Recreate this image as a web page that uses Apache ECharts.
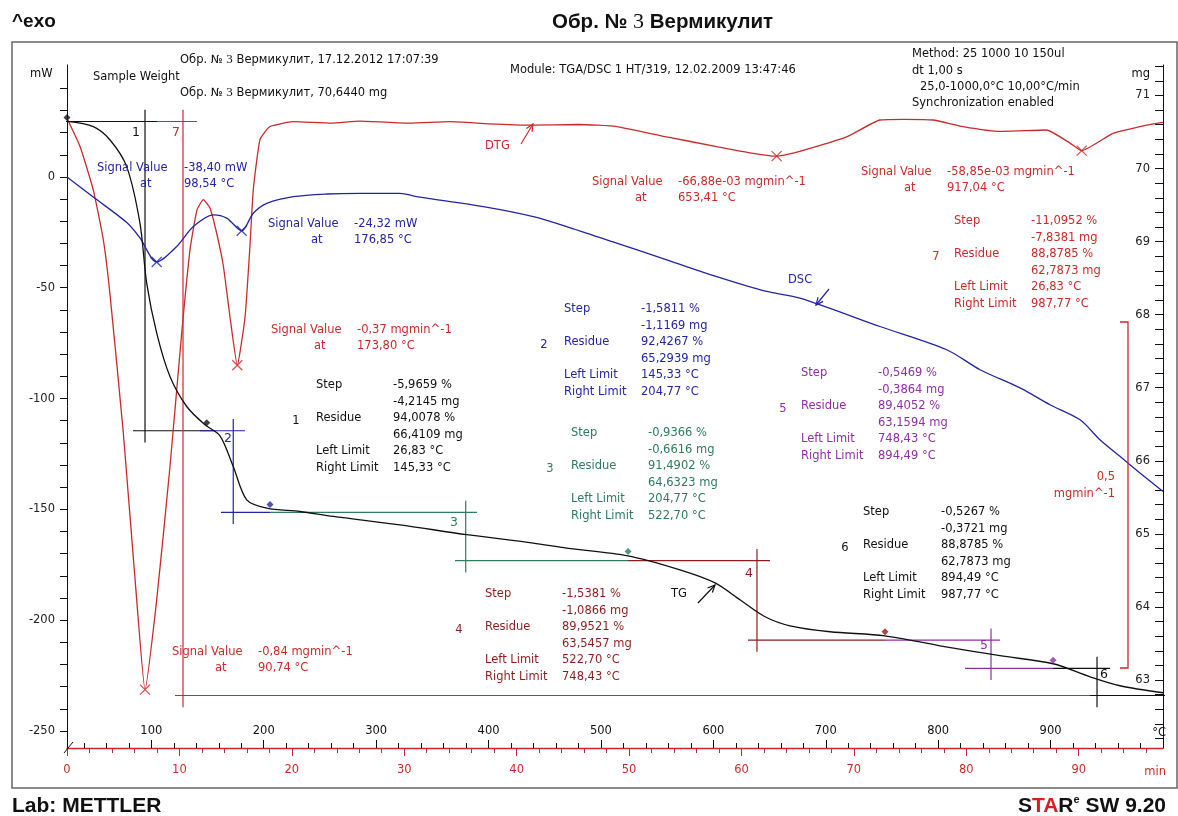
<!DOCTYPE html>
<html>
<head>
<meta charset="utf-8">
<title>Обр. № 3 Вермикулит</title>
<script src="https://cdn.jsdelivr.net/npm/echarts@6/dist/echarts.min.js"></script>
<style>
  html, body { margin: 0; padding: 0; background: #fff; }
  #chart { width: 1178px; height: 816px; }
</style>
</head>
<body>
<div id="chart"></div>
<script>
// TG: mass (mg) vs reference temperature (°C)
const tgTemp = [25, 48.4, 63.3, 78.1, 89.9, 95.9, 104.8, 116.6, 131.5, 147.8, 161.1, 172.9, 184.9, 202.7, 232.3, 261.9, 321.2, 380.6, 439.8, 469.5, 524.1, 570.3, 601.5, 623.7, 646.0, 668.2, 703.8, 752.7, 801.6, 855.0, 902.2, 935.1, 961.7, 1000]
const tgMass = [70.644, 70.573, 70.391, 70.026, 69.252, 68.431, 67.747, 67.153, 66.743, 66.492, 66.342, 65.922, 65.466, 65.353, 65.306, 65.238, 65.124, 64.988, 64.874, 64.806, 64.700, 64.508, 64.330, 64.098, 63.866, 63.742, 63.660, 63.605, 63.468, 63.332, 63.222, 63.044, 62.921, 62.825]

// DSC: heat flow (mW)
const dscTemp = [25, 48.1, 78.4, 89.9, 104.8, 122.6, 137.4, 155.1, 167.1, 180.4, 190.7, 202.7, 226.3, 256.0, 285.6, 321.2, 336.1, 395.3, 439.8, 469.5, 514.0, 558.5, 603.0, 647.4, 677.0, 748.2, 807.6, 837.2, 872.8, 899.5, 926.2, 943.9, 961.7, 979.5, 1000]
const dscPower = [0, -9.0, -20.7, -27.5, -38.4, -31.4, -22.4, -17.1, -18.6, -24.3, -16.4, -11.9, -8.9, -7.7, -7.4, -7.4, -8.9, -13.4, -17.9, -22.4, -29.9, -37.4, -45.0, -51.7, -54.7, -67.5, -78.0, -87.0, -95.2, -102.8, -109.6, -118.6, -126.1, -133.6, -142.0]

// DTG: mass rate (mg/min)
const dtgTemp = [25, 36.6, 48.4, 57.3, 63.3, 75.1, 87.0, 94.4, 104.8, 116.6, 127.0, 134.4, 140.6, 146.3, 152.2, 158.2, 164.0, 170.0, 176.5, 183.4, 187.8, 190.7, 196.7, 205.6, 226.3, 260.0, 285.6, 330.0, 365.7, 400.0, 436.9, 480.0, 514.0, 558.5, 603.0, 632.5, 656.3, 677.0, 718.6, 748.2, 770.0, 795.4, 822.1, 855.0, 896.5, 917.3, 927.7, 955.5, 985.5, 1000]
const dtgRate = [-0.012, -0.053, -0.116, -0.188, -0.268, -0.468, -0.710, -0.840, -0.710, -0.517, -0.324, -0.203, -0.145, -0.130, -0.142, -0.179, -0.225, -0.300, -0.370, -0.300, -0.196, -0.116, -0.043, -0.024, -0.017, -0.019, -0.016, -0.019, -0.017, -0.020, -0.022, -0.021, -0.024, -0.039, -0.053, -0.062, -0.0669, -0.060, -0.039, -0.0145, -0.0135, -0.0145, -0.024, -0.031, -0.029, -0.048, -0.0589, -0.034, -0.022, -0.018]

// evaluated extremes (position on the reference axis, signal value)
const dscPeakTemp = [104.8, 180.4]
const dscPeakValue = [-38.40, -24.32]
const dtgPeakTemp = [94.4, 176.5, 656.3, 927.7]
const dtgPeakValue = [-0.84, -0.37, -0.0669, -0.0589]

// step evaluations
const stepNo = ['1', '2', '3', '4', '5', '6', '7']
const stepColors = ['#111111', '#2424a8', '#2e7c5c', '#8c1d1d', '#8f2fa8', '#111111', '#cc2a2a']
const stepPct = ['-5,9659 %', '-1,5811 %', '-0,9366 %', '-1,5381 %', '-0,5469 %', '-0,5267 %', '-11,0952 %']
const stepMg = ['-4,2145 mg', '-1,1169 mg', '-0,6616 mg', '-1,0866 mg', '-0,3864 mg', '-0,3721 mg', '-7,8381 mg']
const residuePct = ['94,0078 %', '92,4267 %', '91,4902 %', '89,9521 %', '89,4052 %', '88,8785 %', '88,8785 %']
const residueMg = ['66,4109 mg', '65,2939 mg', '64,6323 mg', '63,5457 mg', '63,1594 mg', '62,7873 mg', '62,7873 mg']
const leftLimit = ['26,83 °C', '145,33 °C', '204,77 °C', '522,70 °C', '748,43 °C', '894,49 °C', '26,83 °C']
const rightLimit = ['145,33 °C', '204,77 °C', '522,70 °C', '748,43 °C', '894,49 °C', '987,77 °C', '987,77 °C']

// step construction (mass levels, crossing temperature, horizontal spans)
const stepUpperMass = [70.644, 66.4109, 65.2939, 64.6323, 63.5457, 63.1594, 70.644]
const stepLowerMass = [66.4109, 65.2939, 64.6323, 63.5457, 63.1594, 62.7873, 62.7873]
const stepCrossTemp = [94.4, 172.9, 379.7, 638.8, 847.0, 941.3, 128.2]
const stepUpperSpan = [[18.8, 105.1], [143.3, 183.3], [205.6, 389.7], [524.1, 650.4], [752.7, 855.0], [902.2, 952.9], [105.1, 140.6]]
const stepLowerSpan = [[83.7, 156.7], [162.0, 205.6], [370.2, 524.1], [630.8, 752.7], [823.9, 902.2], [926.2, 1010.7], [121.1, 935.1]]

// limit marks on the TG curve
const markTemp = [25, 149.3, 205.6, 524.1, 752.7, 902.2]
const markMass = [70.70, 66.52, 65.40, 64.76, 63.66, 63.27]
const markColors = ['#111111', '#111111', '#2424a8', '#2e7c5c', '#8c1d1d', '#8f2fa8']

// axis ticks and labels
const tempLabels = [100, 200, 300, 400, 500, 600, 700, 800, 900]
const timeLabels = [0, 10, 20, 30, 40, 50, 60, 70, 80, 90]
const mwLabels = [-250, -200, -150, -100, -50, 0]
const mgLabels = [63, 64, 65, 66, 67, 68, 69, 70, 71]

const range = (a, b, s) => { const r = []; for (let v = a; v <= b + 1e-9; v += s) r.push(Math.round(v * 10) / 10); return r }
const tempMinor = range(40, 980, 20).filter(v => v % 100 !== 0)
const timeMinor = range(2, 96, 2).filter(v => v % 10 !== 0)
const mwTicks = range(-250, 40, 10)
const mgTicks = range(62.2, 71.4, 0.2)

const FONT = '"DejaVu Sans", Verdana, sans-serif'
const ARIAL = '"Liberation Sans", Arial, sans-serif'
const RED = '#cc2a2a'
const BLUE = '#2424a8'

const zip = (a, b) => a.map((v, i) => [v, b[i]])

// --- annotations ---
function txt (x, y, s, color, opts) {
  const o = opts || {}
  return {
    type: 'text', x, y, z: 20, silent: true,
    style: {
      text: s, fill: color,
      fontSize: o.size || 11.5, fontFamily: o.family || FONT, fontWeight: o.weight || 'normal',
      align: o.align || 'left', textAlign: o.align || 'left',
      verticalAlign: o.valign || 'middle', textVerticalAlign: o.valign || 'middle',
      lineHeight: o.lineHeight, rich: o.rich
    }
  }
}

function arrow (x1, y1, x2, y2, color) {
  const a = Math.atan2(y2 - y1, x2 - x1), h = 8, w = 0.42
  return [
    { type: 'line', z: 20, shape: { x1, y1, x2, y2 }, style: { stroke: color, lineWidth: 1.2 } },
    { type: 'polyline', z: 20, shape: { points: [[x2 - h * Math.cos(a - w), y2 - h * Math.sin(a - w)], [x2, y2], [x2 - h * Math.cos(a + w), y2 - h * Math.sin(a + w)]] }, style: { stroke: color, fill: 'none', lineWidth: 1.2 } }
  ]
}

// signal value boxes: [labelX, valueX, y, value, temp, color]
const signalBoxes = [
  [97, 184, 168, '-38,40 mW', '98,54 °C', BLUE],
  [268, 354, 224, '-24,32 mW', '176,85 °C', BLUE],
  [271, 357, 330, '-0,37 mgmin^-1', '173,80 °C', RED],
  [172, 258, 652, '-0,84 mgmin^-1', '90,74 °C', RED],
  [592, 678, 182, '-66,88e-03 mgmin^-1', '653,41 °C', RED],
  [861, 947, 172, '-58,85e-03 mgmin^-1', '917,04 °C', RED]
]

// step text boxes: [labelX, valueX, firstRowY, numX]
const stepBoxes = [
  [316, 393, 385, 296],
  [564, 641, 309, 544],
  [571, 648, 433, 550],
  [485, 562, 594, 459],
  [801, 878, 373, 783],
  [863, 941, 512, 845],
  [954, 1031, 221, 936]
]
// step tags next to construction lines
const stepTags = [[136, 133], [228, 439], [454, 523], [749, 574], [984, 646], [1104, 675], [176, 133]]

const graphics = [
  { type: 'rect', z: 0, shape: { x: 12, y: 42, width: 1165, height: 746 }, style: { fill: 'none', stroke: '#666', lineWidth: 1.5 } },
  txt(12, 22, '^exo', '#111', { size: 19, weight: 'bold', family: ARIAL }),
  txt(552, 22, '{a|Обр. № }{n|3}{a| Вермикулит}', '#111', {
    rich: {
      a: { fontSize: 20.5, fontWeight: 'bold', fontFamily: ARIAL, fill: '#111' },
      n: { fontSize: 22, fontFamily: '"Liberation Serif", "DejaVu Serif", serif', fill: '#111' }
    }
  }),
  txt(12, 806, 'Lab: METTLER', '#111', { size: 21, weight: 'bold', family: ARIAL }),
  txt(1166, 806, '{b|S}{r|TA}{b|R}{e|e}{b| SW 9.20}', '#111', {
    align: 'right',
    rich: {
      b: { fontSize: 21, fontWeight: 'bold', fontFamily: ARIAL, fill: '#111' },
      r: { fontSize: 21, fontWeight: 'bold', fontFamily: ARIAL, fill: '#d42020' },
      e: { fontSize: 11, fontWeight: 'bold', fontFamily: ARIAL, fill: '#111', verticalAlign: 'top', lineHeight: 24 }
    }
  }),
  txt(180, 60, '{a|Обр. № }{n|3}{a| Вермикулит, 17.12.2012 17:07:39}', '#111', {
    rich: { a: { fontSize: 11.5, fontFamily: FONT, fill: '#111' }, n: { fontSize: 13, fontFamily: '"Liberation Serif", serif', fill: '#111' } }
  }),
  txt(93, 77, 'Sample Weight', '#111'),
  txt(180, 93, '{a|Обр. № }{n|3}{a| Вермикулит, 70,6440 mg}', '#111', {
    rich: { a: { fontSize: 11.5, fontFamily: FONT, fill: '#111' }, n: { fontSize: 13, fontFamily: '"Liberation Serif", serif', fill: '#111' } }
  }),
  txt(510, 70, 'Module: TGA/DSC 1 HT/319, 12.02.2009 13:47:46', '#111'),
  txt(912, 54, 'Method: 25 1000 10 150ul', '#111'),
  txt(912, 71, 'dt 1,00 s', '#111'),
  txt(920, 87, '25,0-1000,0°C 10,00°C/min', '#111'),
  txt(912, 103, 'Synchronization enabled', '#111'),
  txt(30, 74, 'mW', '#111'),
  txt(1150, 74, 'mg', '#111', { align: 'right' }),
  txt(1166, 733, '°C', '#111', { align: 'right' }),
  txt(1166, 772, 'min', RED, { align: 'right' }),
  txt(485, 146, 'DTG', RED),
  txt(788, 280, 'DSC', BLUE),
  txt(671, 594, 'TG', '#111'),
  ...arrow(521, 144, 533, 124, RED),
  ...arrow(829, 289, 816, 305, BLUE),
  ...arrow(698, 603, 715, 585, '#111'),
  // DTG scale bar
  { type: 'polyline', z: 20, shape: { points: [[1120, 322], [1128, 322], [1128, 668], [1120, 668]] }, style: { stroke: RED, fill: 'none', lineWidth: 1.3 } },
  txt(1115, 477, '0,5', RED, { align: 'right' }),
  txt(1115, 494, 'mgmin^-1', RED, { align: 'right' }),
  // axis break mark
  { type: 'line', z: 20, shape: { x1: 64, y1: 753, x2: 73, y2: 742 }, style: { stroke: '#111', lineWidth: 1 } }
]

signalBoxes.forEach(b => {
  graphics.push(txt(b[0], b[2], 'Signal Value', b[5]))
  graphics.push(txt(b[1], b[2], b[3], b[5]))
  graphics.push(txt(b[0] + 43, b[2] + 16.5, 'at', b[5]))
  graphics.push(txt(b[1], b[2] + 16.5, b[4], b[5]))
})

stepBoxes.forEach((b, i) => {
  const c = stepColors[i]
  const lh = 16.6
  graphics.push(txt(b[0], b[2] - lh / 2, 'Step\n\nResidue\n\nLeft Limit\nRight Limit', c, { valign: 'top', lineHeight: lh }))
  graphics.push(txt(b[1], b[2] - lh / 2, [stepPct[i], stepMg[i], residuePct[i], residueMg[i], leftLimit[i], rightLimit[i]].join('\n'), c, { valign: 'top', lineHeight: lh }))
  graphics.push(txt(b[3], b[2] + lh * 2 + 3, stepNo[i], c, { align: 'center' }))
  graphics.push(txt(stepTags[i][0], stepTags[i][1], stepNo[i], c, { size: 12.5, align: 'center' }))
})

// construction lines: each segment is its own small line series
const stepSeries = []
stepNo.forEach((no, i) => {
  const segs = [
    [[stepUpperSpan[i][0], stepUpperMass[i]], [stepUpperSpan[i][1], stepUpperMass[i]]],
    [[stepLowerSpan[i][0], stepLowerMass[i]], [stepLowerSpan[i][1], stepLowerMass[i]]],
    [[stepCrossTemp[i], stepUpperMass[i] + 0.16], [stepCrossTemp[i], stepLowerMass[i] - 0.16]]
  ]
  segs.forEach(seg => stepSeries.push({
    name: 'step ' + no, type: 'line', xAxisIndex: 0, yAxisIndex: 1,
    data: seg, showSymbol: false, clip: false, silent: true, z: 2,
    lineStyle: { color: stepColors[i], width: 1.2 }
  }))
})

const crossSymbol = 'path://M0,0L10,10M10,0L0,10'

const chart = echarts.init(document.getElementById('chart'))

const option = {
  animation: false,
  backgroundColor: '#fff',
  grid: { left: 67, right: 15, top: 65, bottom: 68, containLabel: false },
  xAxis: [
    {
      type: 'value', min: 25, max: 1000, position: 'bottom',
      axisLine: { show: true, onZero: false, lineStyle: { color: RED, width: 1.3 } },
      axisTick: { show: true, inside: true, length: 8, customValues: tempLabels, lineStyle: { color: '#111' } },
      axisLabel: { show: true, inside: true, margin: 11, customValues: tempLabels, color: '#111', fontSize: 11.5, fontFamily: FONT },
      splitLine: { show: false }
    },
    {
      type: 'value', min: 25, max: 1000, position: 'bottom',
      axisLine: { show: false, onZero: false },
      axisTick: { show: true, inside: true, length: 5, customValues: tempMinor, lineStyle: { color: '#111' } },
      axisLabel: { show: false },
      splitLine: { show: false }
    },
    {
      type: 'value', min: 0, max: 97.5, position: 'bottom',
      axisLine: { show: false, onZero: false },
      axisTick: { show: true, length: 8, customValues: timeLabels, lineStyle: { color: RED } },
      axisLabel: { show: true, margin: 16, customValues: timeLabels, color: RED, fontSize: 11.5, fontFamily: FONT },
      splitLine: { show: false }
    },
    {
      type: 'value', min: 0, max: 97.5, position: 'bottom',
      axisLine: { show: false, onZero: false },
      axisTick: { show: true, length: 5, customValues: timeMinor, lineStyle: { color: RED } },
      axisLabel: { show: false },
      splitLine: { show: false }
    }
  ],
  yAxis: [
    {
      type: 'value', min: -257.7, max: 50.5, position: 'left',
      axisLine: { show: true, onZero: false, lineStyle: { color: '#111' } },
      axisTick: { show: true, length: 7, customValues: mwTicks, lineStyle: { color: '#111' } },
      axisLabel: { show: true, margin: 12, customValues: mwLabels, color: '#222', fontSize: 11.5, fontFamily: FONT },
      splitLine: { show: false }
    },
    {
      type: 'value', min: 62.069, max: 71.417, position: 'right',
      axisLine: { show: true, onZero: false, lineStyle: { color: '#111' } },
      axisTick: { show: true, inside: true, length: 8, customValues: mgTicks, lineStyle: { color: '#111' } },
      axisLabel: { show: true, inside: true, margin: 13, customValues: mgLabels, color: '#222', fontSize: 11.5, fontFamily: FONT },
      splitLine: { show: false }
    },
    { type: 'value', min: -0.9246, max: 0.0652, show: false }
  ],
  series: [
    ...stepSeries,
    {
      name: 'DTG', type: 'line', xAxisIndex: 0, yAxisIndex: 2,
      data: zip(dtgTemp, dtgRate), showSymbol: false, smooth: 0.15,
      lineStyle: { color: RED, width: 1.3 }, z: 3
    },
    {
      name: 'DSC', type: 'line', xAxisIndex: 0, yAxisIndex: 0,
      data: zip(dscTemp, dscPower), showSymbol: false, smooth: 0.3,
      lineStyle: { color: BLUE, width: 1.3 }, z: 3
    },
    {
      name: 'TG', type: 'line', xAxisIndex: 0, yAxisIndex: 1,
      data: zip(tgTemp, tgMass), showSymbol: false, smooth: 0.3,
      lineStyle: { color: '#111', width: 1.3 }, z: 3
    },
    {
      name: 'DSC peaks', type: 'scatter', xAxisIndex: 0, yAxisIndex: 0,
      data: zip(dscPeakTemp, dscPeakValue), symbol: crossSymbol, symbolSize: 10,
      itemStyle: { color: 'none', borderColor: BLUE, borderWidth: 1.3 }, z: 4
    },
    {
      name: 'DTG peaks', type: 'scatter', xAxisIndex: 0, yAxisIndex: 2,
      data: zip(dtgPeakTemp, dtgPeakValue), symbol: crossSymbol, symbolSize: 10,
      itemStyle: { color: 'none', borderColor: RED, borderWidth: 1.3 }, z: 4
    },
    {
      name: 'limits', type: 'scatter', xAxisIndex: 0, yAxisIndex: 1,
      data: markTemp.map((t, i) => ({ value: [t, markMass[i]], itemStyle: { color: markColors[i] } })),
      symbol: 'diamond', symbolSize: 7, z: 5, clip: false
    }
  ],
  graphic: { elements: graphics }
}

chart.setOption(option)
window.addEventListener('resize', () => chart.resize())
</script>
</body>
</html>
